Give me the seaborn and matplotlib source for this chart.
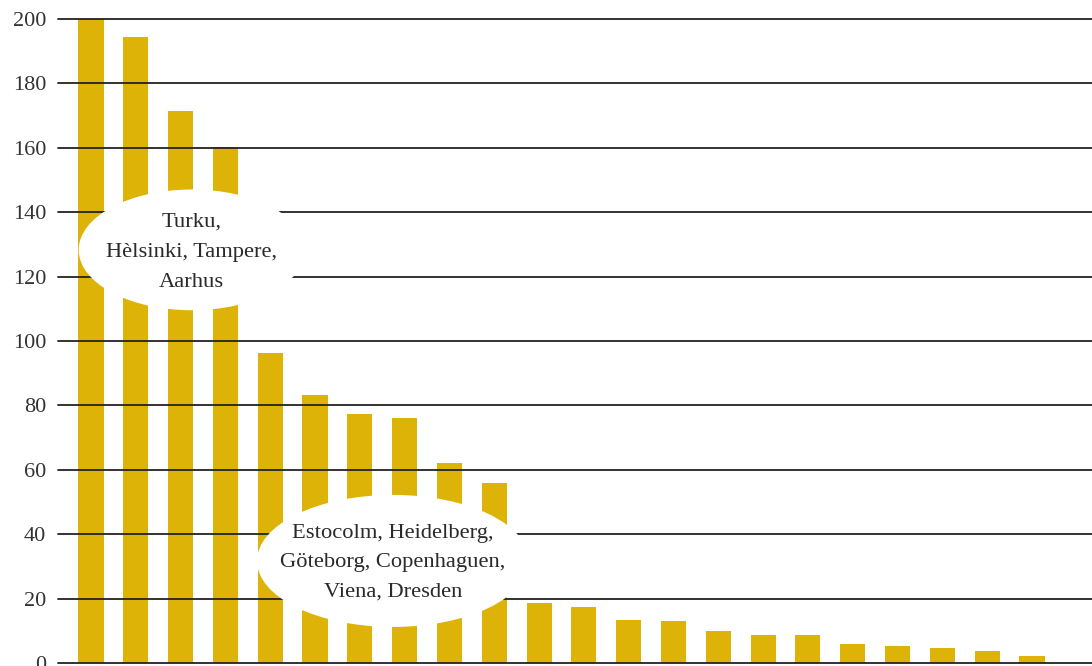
import matplotlib
matplotlib.use("Agg")
import matplotlib.pyplot as plt
from matplotlib.patches import Ellipse
import seaborn as sns
import pandas as pd

# ---- data ----
ranks = [str(i) for i in range(1, 23)]
values = [200, 194.5, 171.5, 160.3, 96.4, 83.3, 77.2, 76.2, 62.2, 55.9,
          18.7, 17.5, 13.4, 13.0, 9.9, 8.8, 8.6, 5.8, 5.2, 4.7, 3.7, 2.3]
yticks = [0, 20, 40, 60, 80, 100, 120, 140, 160, 180, 200]
label_1 = "Turku,\nHèlsinki, Tampere,\nAarhus"
label_2 = "Estocolm, Heidelberg,\nGöteborg, Copenhaguen,\nViena, Dresden"

bar_color = "#DDB307"
df = pd.DataFrame({"rank": ranks, "value": values})

sns.set_style("white")
plt.rcParams["font.family"] = ["Liberation Serif", "DejaVu Serif"]

fig = plt.figure(figsize=(10.92, 6.66), dpi=100)
ax = fig.add_axes([0.0531, 0.0045, 0.9469, 0.967])

sns.barplot(data=df, x="rank", y="value", color=bar_color, saturation=1,
            width=0.56, ax=ax, edgecolor="none", zorder=1)

ax.set_xlim(-0.737, 22.34)
ax.set_ylim(0, 200)
ax.set_yticks(yticks)
ax.set_yticklabels([str(t) for t in yticks], fontsize=16, color="#333333")
ax.tick_params(axis="y", length=0, pad=8.5)
ax.set_xticks([])
ax.set_xlabel("")
ax.set_ylabel("")
for s in ax.spines.values():
    s.set_visible(False)

for t in yticks:
    ax.axhline(t, color="#222222", lw=1.3, zorder=2, clip_on=False)

# annotation ellipses
ax.add_patch(Ellipse((2.25, 128.3), 5.05, 37.5, facecolor="white",
                     edgecolor="none", zorder=3))
ax.text(2.25, 127.5, label_1, ha="center", va="center", fontsize=16.2,
        color="#2a2a2a", linespacing=1.78, zorder=4)

ax.add_patch(Ellipse((6.74, 31.7), 6.07, 41.0, facecolor="white",
                     edgecolor="none", zorder=3))
ax.text(6.74, 31.2, label_2, ha="center", va="center", fontsize=16.2,
        color="#2a2a2a", linespacing=1.72, zorder=4)

fig.savefig("out.png", dpi=100)
